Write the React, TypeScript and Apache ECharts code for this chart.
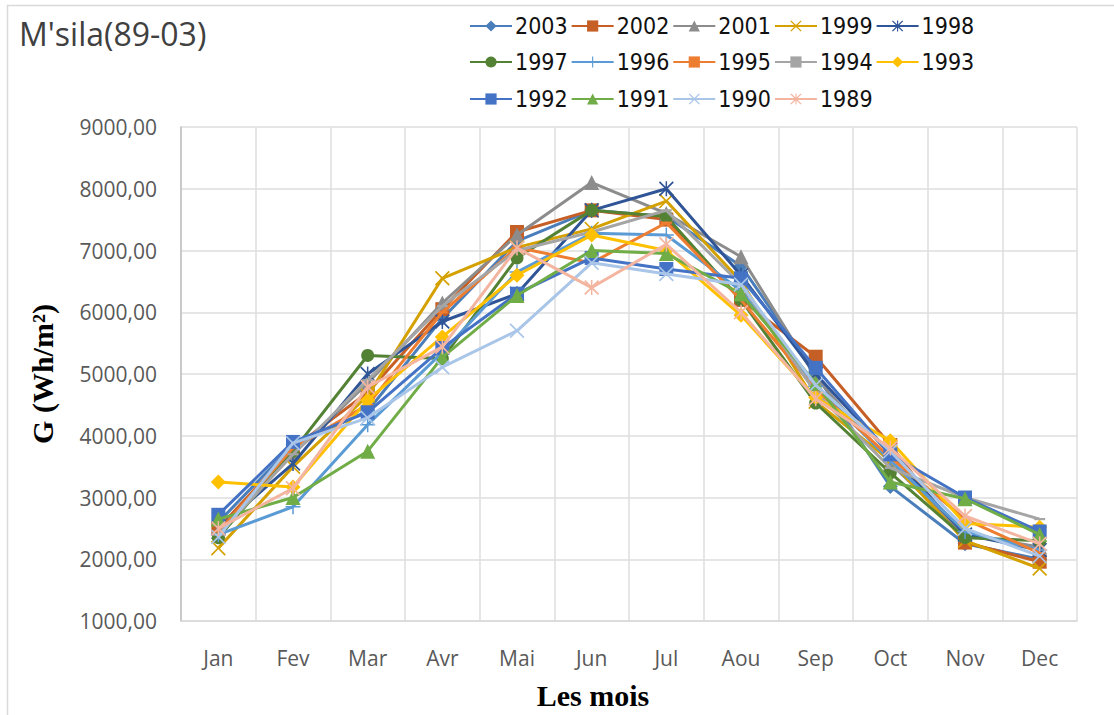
import React, { useEffect, useRef } from "react";
import * as echarts from "echarts";

const months = ["Jan", "Fev", "Mar", "Avr", "Mai", "Jun", "Jul", "Aou", "Sep", "Oct", "Nov", "Dec"];

const y2003 = [2600, 3850, 4400, 5900, 7150, 7650, 7550, 6750, 5000, 3180, 2250, 2000];
const y2002 = [2500, 3800, 4700, 6050, 7300, 7650, 7500, 6200, 5280, 3850, 2270, 1960];
const y2001 = [2450, 3700, 4850, 6150, 7250, 8100, 7600, 6900, 4950, 3550, 2400, 2200];
const y1999 = [2180, 3500, 4650, 6550, 7050, 7350, 7800, 6500, 4550, 3600, 2300, 1850];
const y1998 = [2500, 3550, 5000, 5850, 6300, 7650, 8000, 6600, 5000, 3700, 2400, 2150];
const y1997 = [2350, 3750, 5300, 5250, 6880, 7650, 7550, 6200, 4530, 3400, 2350, 2300];
const y1996 = [2400, 2850, 4180, 5350, 6650, 7280, 7250, 6350, 4800, 3600, 2450, 2150];
const y1995 = [2450, 3800, 4500, 6000, 7050, 6800, 7450, 6200, 4750, 3650, 2650, 2100];
const y1994 = [2400, 3700, 4900, 6100, 7000, 7300, 7650, 6450, 4700, 3480, 3000, 2650];
const y1993 = [3250, 3170, 4580, 5600, 6600, 7250, 7000, 5950, 4620, 3920, 2580, 2520];
const y1992 = [2720, 3900, 4380, 5420, 6300, 6880, 6700, 6550, 5100, 3700, 3000, 2450];
const y1991 = [2650, 3000, 3750, 5270, 6270, 7000, 6950, 6300, 4850, 3250, 2980, 2400];
const y1990 = [2360, 3880, 4290, 5110, 5700, 6800, 6620, 6450, 4820, 3750, 2500, 2050];
const y1989 = [2500, 3150, 4790, 5440, 7040, 6400, 7100, 6000, 4600, 3800, 2700, 2250];

const seriesNames = ["2003", "2002", "2001", "1999", "1998", "1997", "1996", "1995", "1994", "1993", "1992", "1991", "1990", "1989"];
const seriesValues = [y2003, y2002, y2001, y1999, y1998, y1997, y1996, y1995, y1994, y1993, y1992, y1991, y1990, y1989];
const seriesColors = [
  "#4A7EBB", "#C65F26", "#8C8C8C", "#D4A100", "#2F5597", "#548235", "#5B9BD5",
  "#ED7D31", "#A5A5A5", "#FFC000", "#4472C4", "#70AD47", "#A9C5E8", "#F4B5A0",
];

const X_PATH = "path://M0,0.8L0.8,0L5,4.2L9.2,0L10,0.8L5.8,5L10,9.2L9.2,10L5,5.8L0.8,10L0,9.2L4.2,5Z";
const AST_PATH = "path://M0,0.8L0.8,0L5,4.2L9.2,0L10,0.8L5.8,5L10,9.2L9.2,10L5,5.8L0.8,10L0,9.2L4.2,5Z M4.5,0L5.5,0L5.5,10L4.5,10Z";
const PLUS_PATH = "path://M4.5,0L5.5,0L5.5,4.5L10,4.5L10,5.5L5.5,5.5L5.5,10L4.5,10L4.5,5.5L0,5.5L0,4.5L4.5,4.5Z";
const DASH_PATH = "path://M0,4L10,4L10,6L0,6Z";

const seriesSymbols = [
  "diamond", "rect", "triangle", X_PATH, AST_PATH, "circle", PLUS_PATH,
  DASH_PATH, DASH_PATH, "diamond", "rect", "triangle", X_PATH, AST_PATH,
];
const seriesSymbolSizes: any[] = [15, 14, 15, 15, 15, 13, 15, 11, 11, 15, 14, 15, 15, 15];

const legendFont = "'DejaVu Sans Condensed', 'Liberation Sans Narrow', 'Noto Sans', sans-serif";

export default function App() {
  const ref = useRef<HTMLDivElement>(null);

  useEffect(() => {
    if (!ref.current) return;
    const chart = echarts.init(ref.current, undefined, { renderer: "svg" });

    const legendBase = {
      orient: "horizontal" as const,
      left: 464,
      itemWidth: 42,
      itemHeight: 14,
      itemGap: 3,
      textStyle: {
        fontSize: 23,
        color: "#111",
        fontFamily: legendFont,
        lineHeight: 28,
        width: 47,
        overflow: "none",
        padding: [0, 0, 0, -2],
      },
    };

    const option: any = {
      animation: false,
      backgroundColor: "#ffffff",
      title: {
        text: "M'sila(89-03)",
        left: 14,
        top: 12,
        textStyle: { fontSize: 32, fontWeight: "normal", color: "#404040", fontFamily: "'Open Sans', sans-serif" },
      },
      legend: [
        { ...legendBase, top: 7, data: seriesNames.slice(0, 5) },
        { ...legendBase, top: 43, data: seriesNames.slice(5, 10) },
        { ...legendBase, top: 80, data: seriesNames.slice(10, 14) },
      ],
      grid: { left: 181, right: 37, top: 127, bottom: 94, containLabel: false },
      xAxis: {
        type: "category",
        data: months,
        boundaryGap: true,
        axisLine: { show: true, lineStyle: { color: "#d9d9d9", width: 1.5 } },
        axisTick: { show: false },
        axisLabel: { color: "#595959", fontSize: 21, fontFamily: "'Open Sans', sans-serif", margin: 26 },
        splitLine: { show: true, lineStyle: { color: "#dedede", width: 1.5 } },
      },
      yAxis: {
        type: "value",
        min: 1000,
        max: 9000,
        interval: 1000,
        name: "G (Wh/m²)",
        nameLocation: "middle",
        nameGap: 124,
        nameTextStyle: { fontSize: 30, fontWeight: "bold", color: "#000", fontFamily: "'Liberation Serif', 'DejaVu Serif', serif" },
        axisLine: { show: true, lineStyle: { color: "#bfbfbf", width: 1.5 } },
        axisTick: { show: false },
        axisLabel: {
          color: "#595959",
          fontSize: 21,
          fontFamily: "'Open Sans', sans-serif",
          margin: 24,
          formatter: (v: number) => v.toFixed(2).replace(".", ","),
        },
        splitLine: { show: true, lineStyle: { color: "#dedede", width: 1.5 } },
      },
      graphic: [
        {
          type: "rect",
          shape: { x: 7.5, y: 5.5, width: 1200, height: 800 },
          style: { fill: "none", stroke: "#d9d9d9", lineWidth: 1.5 },
          silent: true,
        },
        {
          type: "text",
          x: 593,
          y: 695,
          style: {
            text: "Les mois",
            fontSize: 30,
            fontWeight: "bold",
            fill: "#000",
            fontFamily: "'Liberation Serif', 'DejaVu Serif', serif",
            textAlign: "center",
            textVerticalAlign: "middle",
          },
        },
      ],
      series: seriesNames.map((name, i) => ({
        name,
        type: "line",
        data: seriesValues[i],
        symbol: seriesSymbols[i],
        symbolSize: seriesSymbolSizes[i],
        symbolKeepAspect: true,
        showSymbol: true,
        lineStyle: { color: seriesColors[i], width: 3 },
        itemStyle: { color: seriesColors[i], borderWidth: 0 },
        z: 2 + i,
      })),
    };

    chart.setOption(option);
    return () => chart.dispose();
  }, []);

  return (
    <div
      ref={ref}
      style={{ position: "absolute", left: 0, top: 0, width: 1114, height: 715 }}
    />
  );
}
